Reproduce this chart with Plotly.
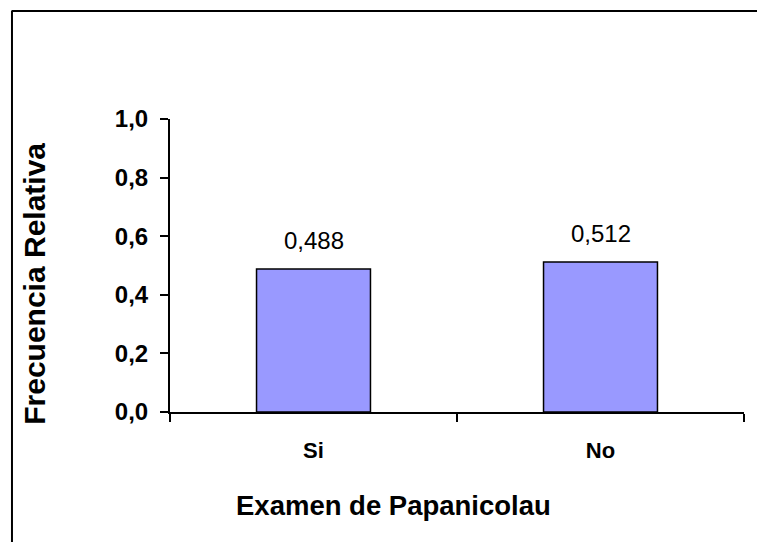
import plotly.graph_objects as go

categories = ["Si", "No"]
values = [0.488, 0.512]
label_texts = ["0,488", "0,512"]
y_tick_vals = [0.0, 0.2, 0.4, 0.6, 0.8, 1.0]
y_tick_text = ["0,0", "0,2", "0,4", "0,6", "0,8", "1,0"]

FONT = "Liberation Sans, Arial, sans-serif"

fig = go.Figure()
fig.add_trace(go.Bar(
    x=categories, y=values,
    marker=dict(color="#9999FF", line=dict(color="#000000", width=1.5)),
    hoverinfo="skip",
))

annotations = []
for c, v, t in zip(categories, values, label_texts):
    annotations.append(dict(x=c, y=v, xref="x", yref="y", text=t, showarrow=False,
                            yanchor="bottom", yshift=13,
                            font=dict(family=FONT, size=24, color="#000")))

annotations.append(dict(x=0.389, y=-0.32, xref="paper", yref="paper",
                        text="Examen de Papanicolau", showarrow=False,
                        xanchor="center", yanchor="middle",
                        font=dict(family=FONT, size=27.5, color="#000", weight="bold")))
annotations.append(dict(x=-0.235, y=0.438, xref="paper", yref="paper",
                        text="Frecuencia Relativa", showarrow=False, textangle=-90,
                        xanchor="center", yanchor="middle",
                        font=dict(family=FONT, size=30, color="#000", weight="bold")))

frame_x = -0.2753
frame_y = 1.3686
frame_line = dict(color="#000", width=2)

fig.update_layout(
    width=757, height=542,
    margin=dict(l=170, r=13, t=119, b=130),
    paper_bgcolor="white", plot_bgcolor="white",
    showlegend=False,
    bargap=0.603,
    annotations=annotations,
    shapes=[
        dict(type="line", xref="paper", yref="paper",
             x0=frame_x, x1=frame_x, y0=-0.5, y1=frame_y + 0.002, line=frame_line),
        dict(type="line", xref="paper", yref="paper",
             x0=frame_x, x1=1.05, y0=frame_y, y1=frame_y, line=frame_line),
    ],
)

fig.update_xaxes(
    type="category", showgrid=False, zeroline=False,
    showline=True, linecolor="#000", linewidth=2,
    ticks="outside", ticklen=8, tickwidth=2, tickcolor="#000",
    tickson="boundaries",
    ticklabelstandoff=18,
    tickfont=dict(family=FONT, size=22, color="#000", weight="bold"),
)
fig.update_yaxes(
    range=[0, 1], showgrid=False, zeroline=False,
    showline=True, linecolor="#000", linewidth=2,
    ticks="outside", ticklen=8, tickwidth=2, tickcolor="#000",
    tickvals=y_tick_vals, ticktext=y_tick_text,
    ticklabelstandoff=7,
    tickfont=dict(family=FONT, size=24, color="#000", weight="bold"),
)

fig.write_html("out.html",
               config={"displayModeBar": False},
               post_script="document.body.style.margin='0';document.body.style.overflow='hidden';")
